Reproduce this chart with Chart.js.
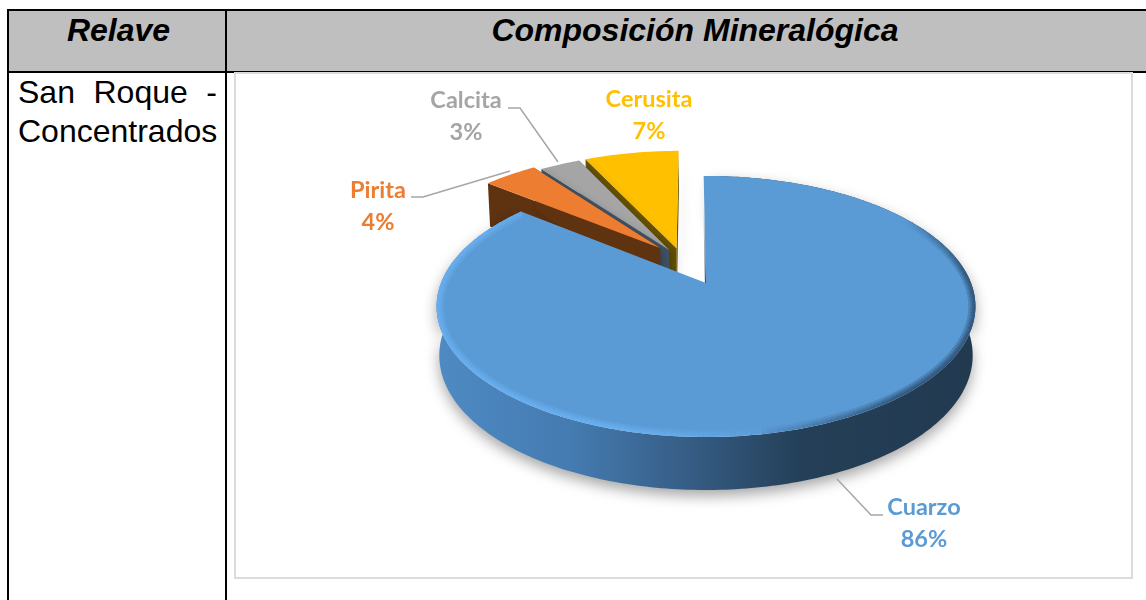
<!DOCTYPE html>
<html lang="es">
<head>
<meta charset="utf-8">
<title>Composición Mineralógica</title>
<script src="https://cdn.jsdelivr.net/npm/chart.js@4"></script>
<style>
html,body{margin:0;padding:0;background:#fff;width:1146px;height:600px;overflow:hidden}
.b{position:absolute;background:#000}
.head{position:absolute;top:11px;height:60px;background:#bfbfbf}
.ht{position:absolute;font:italic bold 32px "Liberation Sans",Arial,sans-serif;color:#000;text-align:center;white-space:nowrap;top:13px;line-height:34px}
.cell{position:absolute;left:18px;width:199px;font:32px/39px "Liberation Sans",Arial,sans-serif;color:#000;text-align-last:justify;white-space:nowrap}
#frame{position:absolute;left:234px;top:72px;width:895px;height:503px;border:2px solid #dcdcdc;background:#fff;box-sizing:content-box}
canvas{position:absolute;left:0;top:0}
</style>
</head>
<body>
<div class="head" style="left:9px;width:216px"></div>
<div class="head" style="left:227px;width:919px"></div>
<div class="b" style="left:7px;top:9px;width:1139px;height:2px"></div>
<div class="b" style="left:7px;top:71px;width:1139px;height:2px"></div>
<div class="b" style="left:7px;top:9px;width:2px;height:591px"></div>
<div class="b" style="left:225px;top:9px;width:2px;height:591px"></div>
<div id="frame"></div>
<div class="ht" style="left:9px;width:219px">Relave</div>
<div class="ht" style="left:227px;width:936px">Composición Mineralógica</div>
<div class="cell" style="top:73px">San Roque -</div>
<div class="cell" style="top:112px">Concentrados</div>
<canvas id="c" width="1146" height="600"></canvas>
<script>
const categories = ["Cuarzo", "Pirita", "Calcita", "Cerusita"];
const percentages = [86, 4, 3, 7];
const faceColours = ["#5b9bd5", "#ed7d31", "#a5a5a5", "#ffc000"];
const wallColours = ["#2f5577", "#5f3210", "#42566a", "#6b5500"];
const explodeDistance = [0, 0.344, 0.31, 0.312];
const explodeBearing = [0, -32, -28, -22];

// Perspective of the tilted pie: the unit disc of the Chart.js arcs is projected onto the page.
const VIEW = {cx: 706, cy: 283, a: 265, b: 126.3, k: -0.18};
const project = (u, v) => {
  const d = 1 + VIEW.k * v;
  return [VIEW.cx + VIEW.a * u / d, VIEW.cy + VIEW.b * v / d];
};
const projectLow = (u, v) => {
  const p = project(u, v);
  return [VIEW.cx + (p[0] - VIEW.cx) * 0.99, p[1] + 48 + 5 * v];
};

// Label placement on the page
const LABELS = [
  {x: 924, y: 507, leader: [[837, 479], [871, 515], [883, 515]]},
  {x: 378, y: 190, leader: [[411, 197], [423, 197], [510, 171]]},
  {x: 466, y: 100, leader: [[508, 108], [520, 108], [558, 162]]},
  {x: 649, y: 99, leader: null}
];

function discCoords(el, i) {
  const b = explodeBearing[i] * Math.PI / 180;
  const ox = Math.sin(b) * explodeDistance[i], oy = -Math.cos(b) * explodeDistance[i];
  const n = Math.max(8, Math.ceil((el.endAngle - el.startAngle) * 60));
  const rim = [];
  for (let j = 0; j <= n; j++) {
    const t = el.startAngle + (el.endAngle - el.startAngle) * j / n;
    rim.push({u: ox + Math.cos(t), v: oy + Math.sin(t), t});
  }
  return {apex: {u: ox, v: oy}, rim};
}
const poly = (ctx, pts) => {
  ctx.beginPath();
  pts.forEach((p, i) => i ? ctx.lineTo(p[0], p[1]) : ctx.moveTo(p[0], p[1]));
  ctx.closePath();
};
function rimShade(deg) {
  const ramp = (x, a, b) => Math.max(0, Math.min(1, (x - a) / (b - a)));
  const light = ramp(deg, 165, 195) * (1 - ramp(deg, 295, 335));
  const dark = ramp(deg, 55, 85) * (1 - ramp(deg, 140, 170));
  return {light, dark};
}

const pie3d = {
  id: "pie3d",
  beforeDatasetDraw() { return false; },
  afterDatasetsDraw(chart) {
    const ctx = chart.ctx;
    const arcs = chart.getDatasetMeta(0).data;
    // Back slices, furthest first
    [3, 2, 1].forEach(i => {
      const el = arcs[i], g = discCoords(el, i);
      const a = g.apex, t = g.rim[0];
      ctx.save();
      ctx.fillStyle = wallColours[i];
      poly(ctx, [project(a.u, a.v), project(t.u, t.v), projectLow(t.u, t.v), projectLow(a.u, a.v)]);
      ctx.fill();
      const last = g.rim[g.rim.length - 1];
      poly(ctx, [project(a.u, a.v), project(last.u, last.v), projectLow(last.u, last.v), projectLow(a.u, a.v)]);
      ctx.shadowColor = "rgba(0,0,0,0.22)"; ctx.shadowBlur = 10; ctx.shadowOffsetX = 5; ctx.shadowOffsetY = 3;
      ctx.fill();
      ctx.restore();
      ctx.fillStyle = el.options.backgroundColor;
      poly(ctx, [project(a.u, a.v)].concat(g.rim.map(p => project(p.u, p.v))));
      ctx.fill();
    });
    // Main slice
    const el = arcs[0], g = discCoords(el, 0);
    const band = g.rim.slice(2);
    const wall = band.map(p => project(p.u, p.v)).concat(band.slice().reverse().map(p => projectLow(p.u, p.v)));
    const grad = ctx.createLinearGradient(437, 0, 977, 0);
    grad.addColorStop(0, "#4f8ac4");
    grad.addColorStop(0.25, "#447bb0");
    grad.addColorStop(0.45, "#375f88");
    grad.addColorStop(0.68, "#243f57");
    grad.addColorStop(1, "#223a50");
    ctx.save();
    ctx.shadowColor = "rgba(0,0,0,0.35)"; ctx.shadowBlur = 14; ctx.shadowOffsetY = 6;
    ctx.fillStyle = grad;
    poly(ctx, wall); ctx.fill();
    ctx.restore();
    const face = [project(g.apex.u, g.apex.v)].concat(g.rim.map(p => project(p.u, p.v)));
    ctx.fillStyle = el.options.backgroundColor;
    poly(ctx, face); ctx.fill();
    // Bevel along the rim
    ctx.save();
    poly(ctx, face); ctx.clip();
    ctx.lineCap = "butt";
    [14, 10, 7, 4].forEach(w => {
      ctx.lineWidth = w;
      for (let i = 0; i < g.rim.length - 1; i++) {
        const deg = ((g.rim[i].t + Math.PI / 2) * 180 / Math.PI + 360) % 360;
        const s = rimShade(deg);
        const p = project(g.rim[i].u, g.rim[i].v), q = project(g.rim[i + 1].u, g.rim[i + 1].v);
        ctx.beginPath(); ctx.moveTo(p[0], p[1]); ctx.lineTo(q[0], q[1]);
        if (s.light > 0) { ctx.strokeStyle = `rgba(112,188,255,${0.22 * s.light})`; ctx.stroke(); }
        if (s.dark > 0) { ctx.strokeStyle = `rgba(30,55,80,${0.22 * s.dark})`; ctx.stroke(); }
      }
    });
    ctx.restore();
    // Thin dark line along the cut
    const s0 = g.rim[0];
    const a0 = project(g.apex.u, g.apex.v), b0 = project(s0.u, s0.v);
    const lineGrad = ctx.createLinearGradient(0, b0[1] + 30, 0, a0[1]);
    lineGrad.addColorStop(0, "rgba(60,90,120,0)");
    lineGrad.addColorStop(1, "rgba(40,65,90,0.9)");
    ctx.strokeStyle = lineGrad; ctx.lineWidth = 1.2;
    ctx.beginPath(); ctx.moveTo(b0[0] - 0.5, b0[1]); ctx.lineTo(a0[0] - 0.5, a0[1]); ctx.stroke();
    // Leaders and labels
    ctx.strokeStyle = "#a6a6a6"; ctx.lineWidth = 1.5;
    LABELS.forEach(l => {
      if (!l.leader) return;
      ctx.beginPath();
      l.leader.forEach((p, i) => i ? ctx.lineTo(p[0], p[1]) : ctx.moveTo(p[0], p[1]));
      ctx.stroke();
    });
    ctx.font = 'bold 23.5px Lato, sans-serif';
    ctx.textAlign = "center"; ctx.textBaseline = "middle";
    LABELS.forEach((l, i) => {
      ctx.fillStyle = faceColours[i];
      ctx.fillText(categories[i], l.x, l.y);
      ctx.fillText(percentages[i] + "%", l.x, l.y + 32);
    });
  }
};

new Chart(document.getElementById("c"), {
  type: "pie",
  data: {
    labels: categories,
    datasets: [{data: percentages, backgroundColor: faceColours, borderWidth: 0}]
  },
  options: {
    responsive: false,
    animation: false,
    rotation: -0.6,
    plugins: {legend: {display: false}, tooltip: {enabled: false}, title: {display: false}}
  },
  plugins: [pie3d]
});
</script>
</body>
</html>
